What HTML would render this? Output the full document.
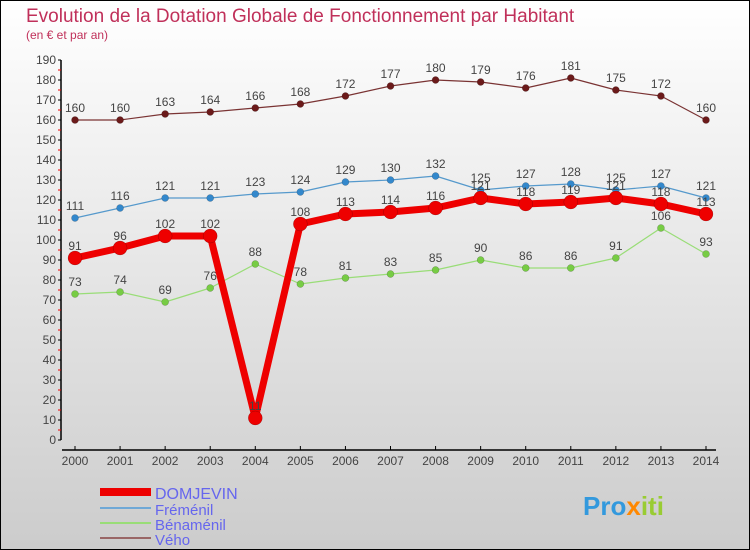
<!DOCTYPE html>
<html><head><meta charset="utf-8"><style>
body{margin:0}
#c{width:750px;height:550px;position:relative;box-sizing:border-box;border:1px solid #000;background:linear-gradient(#ffffff,#cccccc);font-family:"Liberation Sans",sans-serif;overflow:hidden}
</style></head><body>
<div id="c">
<svg width="748" height="548" viewBox="1 1 748 548" style="position:absolute;left:0;top:0" id="svg">
<text x="26" y="22" font-size="19" fill="#c0305a">Evolution de la Dotation Globale de Fonctionnement par Habitant</text>
<text x="26" y="39" font-size="12" fill="#c0305a">(en € et par an)</text>
<g id="axes"></g><g id="series"></g>
<g>
<rect x="100" y="488" width="51" height="8" fill="#e00"/>
<text x="155" y="499" font-size="16" fill="#6666ee">DOMJEVIN</text>
<rect x="100" y="507" width="51" height="2" fill="#6fa8d6"/>
<text x="155" y="515" font-size="15" fill="#6666ee">Fréménil</text>
<rect x="100" y="522" width="51" height="2" fill="#99dd77"/>
<text x="155" y="530" font-size="15" fill="#6666ee">Bénaménil</text>
<rect x="100" y="537" width="51" height="2" fill="#996666"/>
<text x="155" y="545" font-size="15" fill="#6666ee">Vého</text>
</g>
<text x="583" y="515" font-size="26" font-weight="bold" fill="#3399dd">Pro<tspan fill="#ff8800">x</tspan><tspan fill="#99cc33">iti</tspan></text>
</svg>
</div>
<script>
const years=[2000,2001,2002,2003,2004,2005,2006,2007,2008,2009,2010,2011,2012,2013,2014];
const yTicks=[0,10,20,30,40,50,60,70,80,90,100,110,120,130,140,150,160,170,180,190];
const domjevin=[91,96,102,102,11,108,113,114,116,121,118,119,121,118,113];
const fremenil=[111,116,121,121,123,124,129,130,132,125,127,128,125,127,121];
const benamenil=[73,74,69,76,88,78,81,83,85,90,86,86,91,106,93];
const veho=[160,160,163,164,166,168,172,177,180,179,176,181,175,172,160];
const NS="http://www.w3.org/2000/svg";
const X=i=>75+i*(706-75)/(years.length-1);
const Y=v=>440-v*2;
function mk(t,a,p){const e=document.createElementNS(NS,t);for(const k in a)e.setAttribute(k,a[k]);p.appendChild(e);return e;}
const ax=document.getElementById('axes'),sg=document.getElementById('series');
const yl=mk('line',{x1:61,y1:Y(190),x2:61,y2:Y(0),stroke:'#000','stroke-width':1.5},ax);


yTicks.forEach(v=>{
 mk('line',{x1:58,y1:Y(v),x2:61,y2:Y(v),stroke:'#000'},ax);
 if(v<190)mk('line',{x1:58,y1:Y(v+5),x2:61,y2:Y(v+5),stroke:'#e00'},ax);
 const t=mk('text',{x:56,y:Y(v)+4,'font-size':12,fill:'#444','text-anchor':'end'},ax);
 
 
 t.textContent=v;
});
const xl=mk('line',{x1:62,y1:450,x2:716,y2:450,stroke:'#000','stroke-width':1.5},ax);


years.forEach((y,i)=>{
 mk('line',{x1:X(i),y1:446,x2:X(i),y2:450,stroke:'#000'},ax);
 const t=mk('text',{x:X(i),y:465,'font-size':12,fill:'#444','text-anchor':'middle'},ax);
 
 
 t.textContent=y;
});
function series(name,data,color,dot,w,r){
 const g=mk('g',{},sg);
 
 
 const pl=mk('polyline',{points:data.map((v,i)=>X(i)+','+Y(v)).join(' '),fill:'none',stroke:color,'stroke-width':w,'stroke-linejoin':'round'},g);
 
 
 data.forEach((v,i)=>{
  const c=mk('circle',{cx:X(i),cy:Y(v),r:r,fill:dot,stroke:'rgba(0,0,0,0.3)','stroke-width':0.5},g);
  
  
  const t=mk('text',{x:X(i),y:Y(v)-8,'font-size':12,fill:'#444','text-anchor':'middle'},g);
  
  
  t.textContent=v;
 });
}
series('veho',veho,'#7a3333','#6b1a1a',1.2,3.5);
series('benamenil',benamenil,'#99dd77','#77cc44',1.2,3.5);
series('fremenil',fremenil,'#5599cc','#3388cc',1.2,3.5);
series('domjevin',domjevin,'#ee0000','#ee0000',7,7);
</script>
</body></html>
